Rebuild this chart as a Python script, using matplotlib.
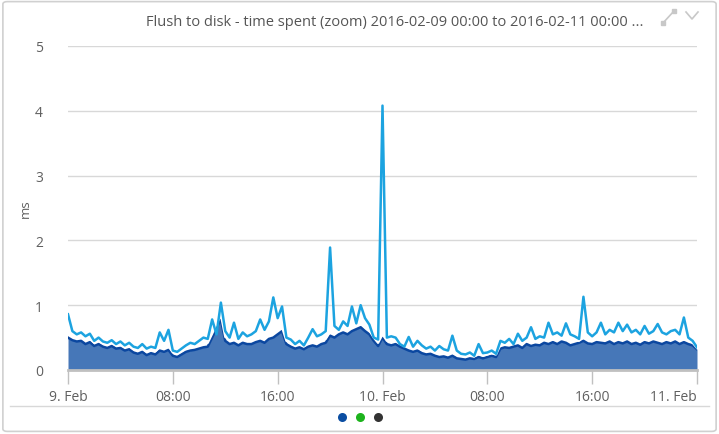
import matplotlib.pyplot as plt
from matplotlib.lines import Line2D
from matplotlib.patches import FancyBboxPatch
import pandas as pd

plt.rcParams['font.family'] = ['Open Sans', 'DejaVu Sans']

# samples every 20 minutes, 2016-02-09 00:00 .. 2016-02-11 00:00
times = pd.date_range('2016-02-09 00:00', '2016-02-11 00:00', freq='20min')

# light blue line (3 samples per hour)
peak_ms = [
    0.86, 0.60, 0.55, 0.58, 0.52, 0.56, 0.45, 0.50, 0.44, 0.42, 0.46, 0.40,
    0.44, 0.38, 0.42, 0.36, 0.34, 0.40, 0.33, 0.36, 0.34, 0.58, 0.45, 0.62,
    0.30, 0.28, 0.33, 0.38, 0.42, 0.40, 0.45, 0.50, 0.48, 0.78, 0.55, 1.04,
    0.60, 0.50, 0.73, 0.48, 0.58, 0.52, 0.55, 0.60, 0.78, 0.62, 0.75, 1.12,
    0.80, 0.98, 0.50, 0.47, 0.40, 0.45, 0.38, 0.50, 0.63, 0.52, 0.55, 0.60,
    1.89, 0.68, 0.62, 0.75, 0.68, 0.98, 0.72, 1.00, 0.80, 0.70, 0.50, 0.47,
    4.08, 0.50, 0.52, 0.50, 0.40, 0.36, 0.51, 0.36, 0.45, 0.38, 0.33, 0.36,
    0.30, 0.37, 0.32, 0.30, 0.53, 0.30, 0.25, 0.24, 0.27, 0.22, 0.40, 0.26,
    0.27, 0.30, 0.25, 0.45, 0.42, 0.48, 0.40, 0.56, 0.45, 0.50, 0.66, 0.48,
    0.52, 0.50, 0.73, 0.55, 0.58, 0.53, 0.72, 0.55, 0.52, 0.48, 1.13, 0.58,
    0.52, 0.58, 0.73, 0.55, 0.62, 0.58, 0.73, 0.60, 0.70, 0.58, 0.62, 0.55,
    0.68, 0.56, 0.60, 0.71, 0.58, 0.55, 0.60, 0.62, 0.55, 0.81, 0.50, 0.45,
    0.35,
]

# white line
upper_ms = [
    0.56, 0.52, 0.50, 0.51, 0.46, 0.49, 0.42, 0.45, 0.41, 0.39, 0.42, 0.38,
    0.39, 0.35, 0.37, 0.32, 0.30, 0.33, 0.28, 0.31, 0.29, 0.36, 0.34, 0.37,
    0.27, 0.25, 0.29, 0.33, 0.36, 0.36, 0.39, 0.41, 0.42, 0.56, 0.71, 0.85,
    0.51, 0.46, 0.48, 0.44, 0.48, 0.46, 0.46, 0.49, 0.51, 0.48, 0.54, 0.56,
    0.61, 0.66, 0.45, 0.41, 0.38, 0.40, 0.37, 0.41, 0.44, 0.42, 0.46, 0.48,
    0.59, 0.57, 0.61, 0.64, 0.61, 0.66, 0.69, 0.72, 0.66, 0.61, 0.50, 0.42,
    0.55, 0.45, 0.44, 0.45, 0.41, 0.38, 0.35, 0.33, 0.35, 0.31, 0.29, 0.30,
    0.27, 0.25, 0.26, 0.24, 0.27, 0.23, 0.22, 0.21, 0.23, 0.21, 0.25, 0.22,
    0.24, 0.26, 0.24, 0.39, 0.41, 0.40, 0.42, 0.44, 0.40, 0.46, 0.43, 0.45,
    0.44, 0.48, 0.46, 0.49, 0.46, 0.50, 0.48, 0.44, 0.46, 0.45, 0.51, 0.47,
    0.46, 0.49, 0.48, 0.47, 0.50, 0.46, 0.49, 0.47, 0.50, 0.46, 0.48, 0.45,
    0.49, 0.47, 0.50, 0.48, 0.46, 0.49, 0.47, 0.50, 0.46, 0.49, 0.46, 0.42,
    0.34,
]

# dark blue area
mean_ms = [
    0.50, 0.46, 0.44, 0.45, 0.40, 0.43, 0.37, 0.40, 0.36, 0.34, 0.37, 0.33,
    0.34, 0.30, 0.32, 0.27, 0.25, 0.28, 0.23, 0.26, 0.24, 0.30, 0.28, 0.31,
    0.22, 0.20, 0.24, 0.28, 0.30, 0.31, 0.33, 0.35, 0.36, 0.50, 0.65, 0.78,
    0.45, 0.40, 0.42, 0.38, 0.42, 0.40, 0.40, 0.43, 0.45, 0.42, 0.48, 0.50,
    0.55, 0.60, 0.40, 0.36, 0.33, 0.35, 0.32, 0.36, 0.38, 0.36, 0.40, 0.42,
    0.53, 0.50, 0.55, 0.58, 0.55, 0.60, 0.63, 0.66, 0.60, 0.55, 0.45, 0.37,
    0.50, 0.40, 0.38, 0.40, 0.36, 0.33, 0.30, 0.28, 0.30, 0.26, 0.24, 0.25,
    0.22, 0.20, 0.21, 0.19, 0.22, 0.18, 0.17, 0.16, 0.18, 0.17, 0.20, 0.18,
    0.20, 0.22, 0.20, 0.33, 0.35, 0.34, 0.36, 0.38, 0.34, 0.40, 0.37, 0.39,
    0.38, 0.42, 0.40, 0.43, 0.40, 0.44, 0.42, 0.38, 0.40, 0.42, 0.45, 0.41,
    0.40, 0.43, 0.42, 0.41, 0.44, 0.40, 0.43, 0.41, 0.44, 0.40, 0.42, 0.39,
    0.43, 0.41, 0.44, 0.42, 0.40, 0.43, 0.41, 0.44, 0.40, 0.43, 0.40, 0.38,
    0.32,
]

tick_labels = ['9. Feb', '08:00', '16:00', '10. Feb', '08:00', '16:00', '11. Feb']
legend_colors = ['#0b4ea2', '#1db31d', '#333333']

TEXT = '#606060'

fig = plt.figure(figsize=(7.19, 4.35), dpi=100)

# card border
fig.add_artist(FancyBboxPatch((0.004, 0.006), 0.992, 0.988,
                              boxstyle='round,pad=0,rounding_size=0.006',
                              transform=fig.transFigure, fc='none',
                              ec='#d0d0d0', lw=1.2))

ax = fig.add_axes([68 / 719, 1 - 371 / 435, 629 / 719, 324 / 435])

ax.fill_between(times, mean_ms, color='#4677b8', lw=0, zorder=2)
ax.plot(times, mean_ms, color='#0b47a0', lw=1.8, zorder=3)
ax.plot(times, upper_ms, color='white', lw=1.6, zorder=4)
ax.plot(times, peak_ms, color='#1ca3e0', lw=1.8, zorder=5)

ax.set_xlim(times[0], times[-1])
ax.set_ylim(0, 5)
ax.set_yticks(range(6))
ax.yaxis.grid(True, color='#d8d8d8', lw=1)
ax.set_axisbelow(True)

ticks = pd.date_range(times[0], times[-1], freq='8h')
ax.set_xticks(ticks)
ax.set_xticklabels(tick_labels)
# keep the last label inside the card, like the original
ax.get_xticklabels()[-1].set_horizontalalignment('right')
ax.get_xticklabels()[-1].set_x(0)

for s in ['top', 'right', 'left']:
    ax.spines[s].set_visible(False)
ax.spines['bottom'].set_color('#c0c0c0')
ax.spines['bottom'].set_linewidth(2)
ax.spines['bottom'].set_zorder(6)

ax.tick_params(axis='x', length=10, width=1, color='#c0c0c0', colors=TEXT,
               labelsize=10, pad=4)
ax.tick_params(axis='y', length=0, colors=TEXT, labelsize=10, pad=18)
ax.set_ylabel('ms', color=TEXT, fontsize=9.5, labelpad=2)

fig.text(395 / 719, 1 - 22 / 435,
         'Flush to disk - time spent (zoom) 2016-02-09 00:00 to 2016-02-11 00:00 ...',
         ha='center', va='center', color='#555555', fontsize=10.5)

# expand / collapse icons
fig.add_artist(Line2D([663 / 719, 674 / 719], [1 - 24 / 435, 1 - 12 / 435],
                      color='#c8c8c8', lw=1.2, transform=fig.transFigure))
for px, py in [(663, 24), (674, 12)]:
    fig.add_artist(Line2D([px / 719], [1 - py / 435], marker='s', ms=3,
                          color='#c8c8c8', transform=fig.transFigure))
fig.add_artist(Line2D([686 / 719, 692 / 719, 698 / 719],
                      [1 - 13 / 435, 1 - 20 / 435, 1 - 13 / 435],
                      color='#c8c8c8', lw=1.2, transform=fig.transFigure))

# separator and legend dots
fig.add_artist(Line2D([10 / 719, 709 / 719], [1 - 407 / 435, 1 - 407 / 435],
                      color='#d8d8d8', lw=1, transform=fig.transFigure))
for i, c in enumerate(legend_colors):
    fig.add_artist(Line2D([(342 + 18 * i) / 719], [1 - 418 / 435], marker='o',
                          ms=6.5, mew=0, color=c, transform=fig.transFigure))

fig.savefig('out.png', dpi=100)
